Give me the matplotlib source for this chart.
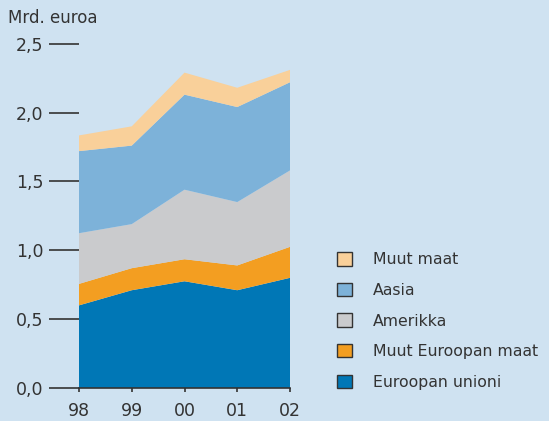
import numpy as np
import matplotlib.pyplot as plt
from matplotlib.patches import Patch

years = ["98", "99", "00", "01", "02"]
series_names = ["Euroopan unioni", "Muut Euroopan maat", "Amerikka", "Aasia", "Muut maat"]

# values in billions of euros
eu = [0.60, 0.71, 0.775, 0.71, 0.80]
muut_eurooppa = [0.156, 0.16, 0.16, 0.18, 0.225]
amerikka = [0.368, 0.32, 0.505, 0.46, 0.555]
aasia = [0.596, 0.57, 0.69, 0.69, 0.64]
muut_maat = [0.114, 0.14, 0.16, 0.14, 0.09]

yticks = [0.0, 0.5, 1.0, 1.5, 2.0, 2.5]
ytick_labels = ["0,0", "0,5", "1,0", "1,5", "2,0", "2,5"]

COLORS = ["#0077b6", "#f39e21", "#cacbcd", "#7db2d9", "#f9d09a"]
BG = "#cfe2f1"
TXT = "#333333"

plt.rcParams["font.family"] = ["DejaVu Sans"]

fig = plt.figure(figsize=(5.49, 4.21), dpi=100, facecolor=BG)
ax = fig.add_axes([79 / 549, 33 / 421, 211 / 549, 344.3 / 421])
ax.set_facecolor(BG)

x = np.arange(len(years))
ax.stackplot(x, eu, muut_eurooppa, amerikka, aasia, muut_maat,
             colors=COLORS, linewidth=0)

ax.set_xlim(0, len(years) - 1)
ax.set_ylim(0, 2.5)

for s in ["top", "right", "left"]:
    ax.spines[s].set_visible(False)
ax.spines["bottom"].set_color(TXT)
ax.spines["bottom"].set_linewidth(1.2)

ax.set_yticks(yticks)
ax.set_yticklabels(ytick_labels)
ax.tick_params(axis="y", length=21.6, width=1.2, color=TXT, pad=4,
               labelsize=12.5, labelcolor=TXT)
ax.set_xticks(x)
ax.set_xticklabels(years)
ax.tick_params(axis="x", length=3, width=1.2, color=TXT, pad=7,
               labelsize=12.5, labelcolor=TXT)

fig.text(8 / 549, 1 - 18 / 421, "Mrd. euroa", fontsize=12, color=TXT,
         va="center", ha="left")

handles = [Patch(facecolor=c, edgecolor=TXT, linewidth=1.0) for c in COLORS]
leg = fig.legend(handles[::-1], series_names[::-1], loc="center left",
                 bbox_to_anchor=(329 / 549, 1 - 321 / 421), frameon=False,
                 fontsize=11.3, handlelength=0.95, handleheight=0.95,
                 handletextpad=1.35, labelspacing=0.98, borderpad=0)
for t in leg.get_texts():
    t.set_color(TXT)

fig.savefig("out.png", dpi=100, facecolor=BG)
